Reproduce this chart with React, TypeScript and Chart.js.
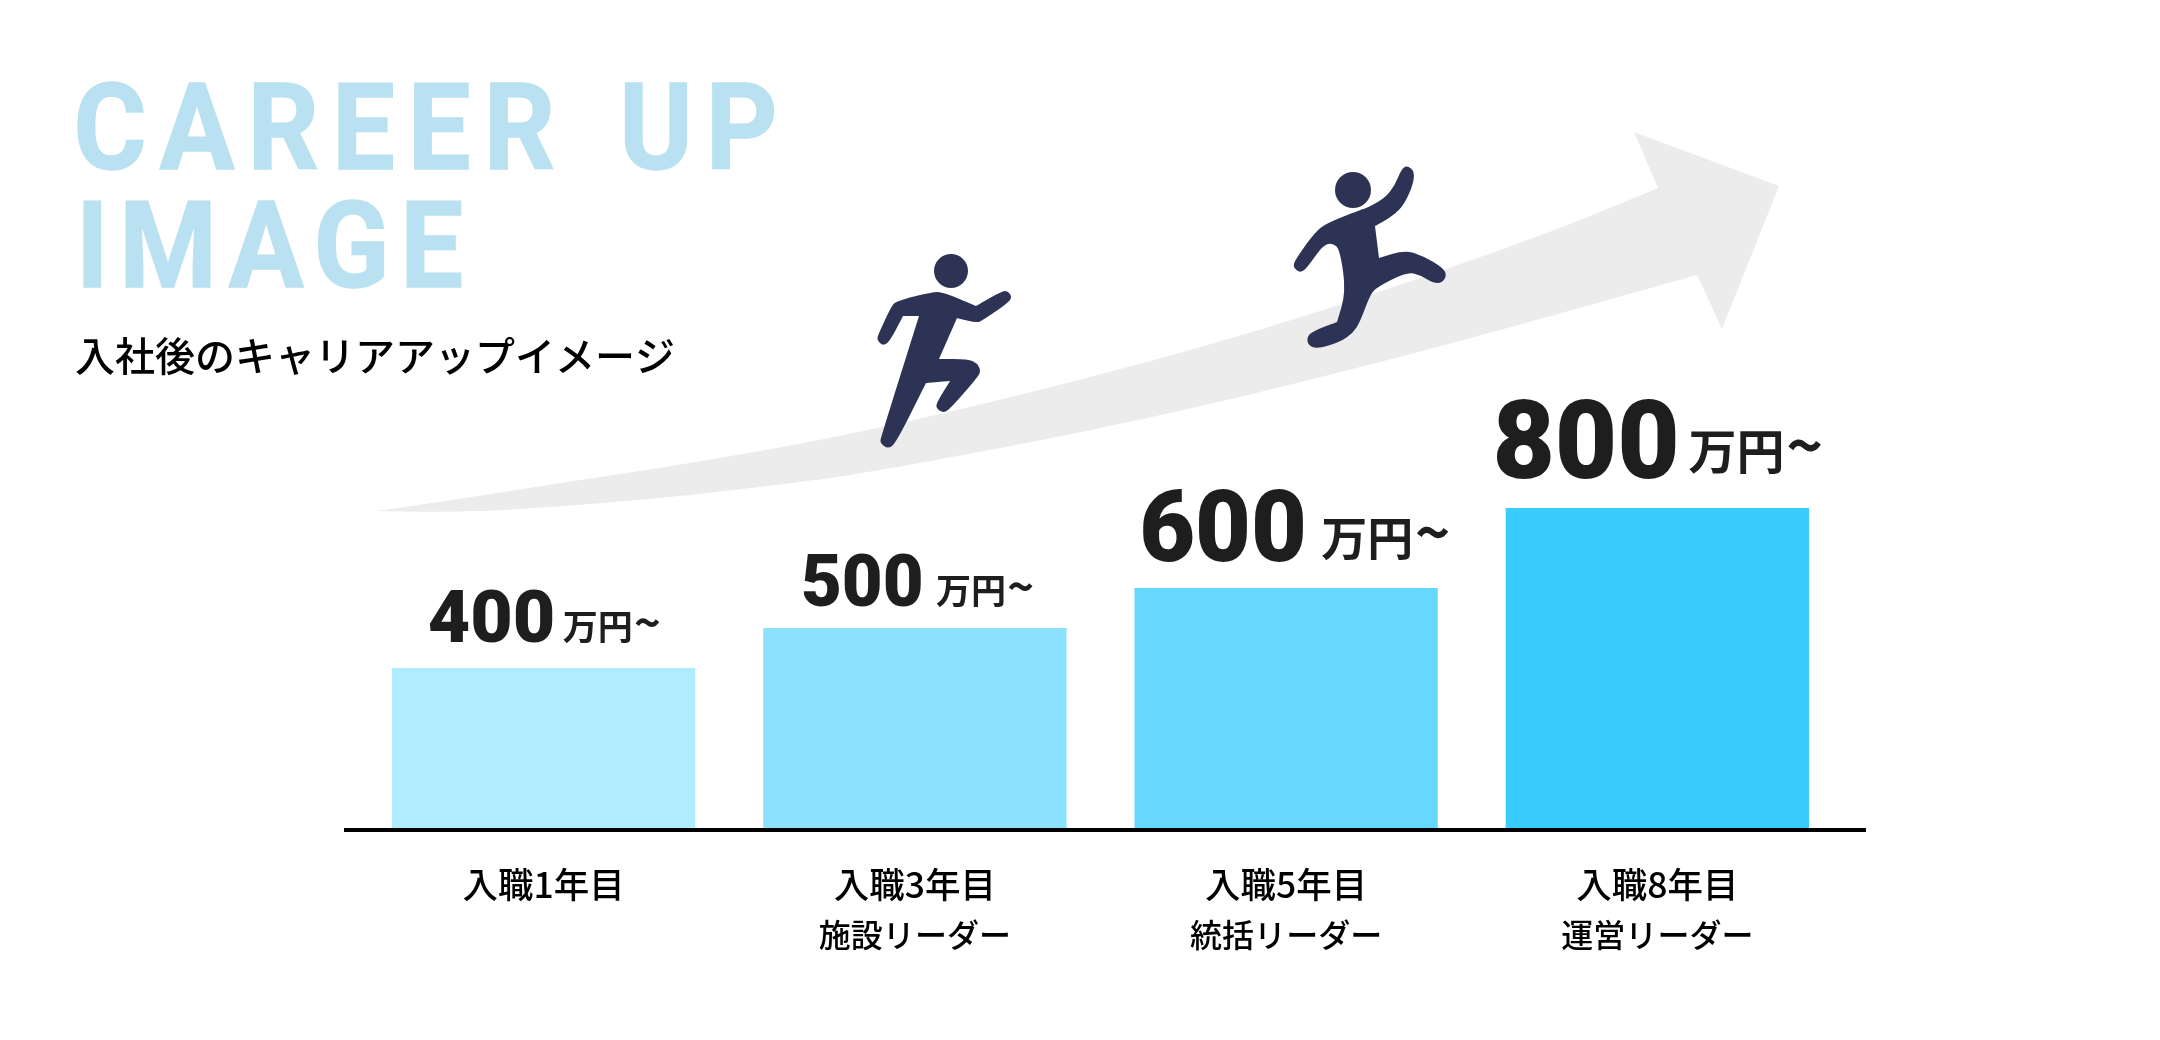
import React, { useEffect, useRef } from "react";
import { Chart, registerables } from "chart.js";

Chart.register(...registerables);

const categories = ["入職1年目", "入職3年目", "入職5年目", "入職8年目"];
const roles = ["", "施設リーダー", "統括リーダー", "運営リーダー"];
const salaries = [400, 500, 600, 800];
const unitLabel = "万円";
const unitSuffix = "~";
const barColors = ["#B0ECFF", "#8CE1FF", "#66D7FD", "#3ACCFD"];
const titleLines = ["CAREER UP", "IMAGE"];
const subtitle = "入社後のキャリアアップイメージ";

const JP = '"Noto Sans CJK JP", "Noto Sans", sans-serif';
const DIGITS = 'Roboto, "Liberation Sans", sans-serif';

// value-label typography per bar
const valueStyles = [
  { digit: 72, sx: 1.02, unit: 35, dx: -116, gap: 26, unitDx: 19, unitDrop: 2 },
  { digit: 72, sx: 0.98, unit: 35, dx: -114, gap: 22, unitDx: 21, unitDrop: 2 },
  { digit: 100, sx: 0.965, unit: 46, dx: -147, gap: 27, unitDx: 35, unitDrop: 6 },
  { digit: 110, sx: 0.98, unit: 48, dx: -165, gap: 30, unitDx: 31, unitDrop: 9 },
];

type P = [number, number];
const arrowUpper: P[] = [[377, 511], [460, 499], [560, 483], [693, 463], [860, 433], [1050, 388], [1217, 343], [1340, 305], [1450, 268], [1550, 232], [1600, 212], [1658, 188]];
const arrowHead: P[] = [[1634, 132], [1779, 186], [1722, 329], [1697, 275]];
const arrowLower: P[] = [[1530, 322], [1397, 358], [1217, 403], [1050, 439], [860, 474], [793, 483], [693, 495], [593, 504], [493, 511], [427, 512], [377, 511]];

// sharp corners are listed twice so the smoothing passes through them
const runnerA: P[] = [[932, 292], [943, 292], [976, 306], [976, 306], [1002, 291], [1008, 291], [1012, 297], [1008, 303], [983, 320], [977, 323], [957, 318], [957, 318], [939, 359], [939, 359], [968, 359], [977, 363], [981, 371], [977, 378], [950, 409], [943, 413], [936, 408], [937, 402], [950, 381], [950, 381], [926, 383], [926, 383], [896, 443], [888, 449], [880, 443], [881, 437], [919, 316], [919, 316], [903, 316], [903, 316], [890, 341], [883, 346], [877, 340], [878, 335], [891, 307], [896, 301]];
const runnerB: P[] = [[1407, 165], [1415, 172], [1412, 188], [1402, 208], [1388, 219], [1375, 226], [1375, 226], [1379, 258], [1379, 258], [1405, 250], [1423, 256], [1442, 267], [1447, 275], [1442, 283], [1433, 283], [1420, 275], [1407, 272], [1377, 287], [1370, 295], [1360, 322], [1353, 333], [1340, 342], [1317, 349], [1308, 345], [1307, 337], [1313, 331], [1337, 322], [1337, 322], [1346, 292], [1340, 250], [1333, 243], [1323, 245], [1307, 268], [1300, 273], [1293, 267], [1295, 260], [1315, 232], [1327, 223], [1360, 210], [1367, 208], [1385, 198], [1395, 185], [1401, 170]];

function smooth(ctx: CanvasRenderingContext2D, pts: P[]) {
  for (let i = 1; i < pts.length - 1; i++) {
    const mx = (pts[i][0] + pts[i + 1][0]) / 2;
    const my = (pts[i][1] + pts[i + 1][1]) / 2;
    ctx.quadraticCurveTo(pts[i][0], pts[i][1], mx, my);
  }
  const last = pts[pts.length - 1];
  ctx.lineTo(last[0], last[1]);
}

function blob(ctx: CanvasRenderingContext2D, pts: P[]) {
  const n = pts.length;
  ctx.beginPath();
  ctx.moveTo((pts[n - 1][0] + pts[0][0]) / 2, (pts[n - 1][1] + pts[0][1]) / 2);
  for (let i = 0; i < n; i++) {
    const a = pts[i];
    const b = pts[(i + 1) % n];
    ctx.quadraticCurveTo(a[0], a[1], (a[0] + b[0]) / 2, (a[1] + b[1]) / 2);
  }
  ctx.closePath();
  ctx.fill();
}

const illustration = {
  id: "illustration",
  beforeDatasetsDraw(chart: Chart) {
    const ctx = chart.ctx;
    ctx.save();
    ctx.fillStyle = "#ECECEC";
    ctx.beginPath();
    ctx.moveTo(arrowUpper[0][0], arrowUpper[0][1]);
    smooth(ctx, arrowUpper);
    arrowHead.forEach((p) => ctx.lineTo(p[0], p[1]));
    smooth(ctx, [arrowHead[arrowHead.length - 1], ...arrowLower]);
    ctx.closePath();
    ctx.fill();

    ctx.fillStyle = "#2D3354";
    blob(ctx, runnerA);
    blob(ctx, runnerB);
    ctx.beginPath();
    ctx.arc(951, 271, 17, 0, Math.PI * 2);
    ctx.fill();
    ctx.beginPath();
    ctx.arc(1353, 190, 18, 0, Math.PI * 2);
    ctx.fill();
    ctx.restore();
  },
};

const annotations = {
  id: "annotations",
  afterDatasetsDraw(chart: Chart) {
    const ctx = chart.ctx as CanvasRenderingContext2D & { letterSpacing: string; wordSpacing: string };
    const meta = chart.getDatasetMeta(0);
    const y0 = chart.scales.y.getPixelForValue(0);
    ctx.save();
    // baseline extends past the category band
    ctx.fillStyle = "#000";
    ctx.fillRect(344, y0, 1522, 4);

    // headline
    ctx.textBaseline = "alphabetic";
    ctx.textAlign = "left";
    ctx.save();
    ctx.fillStyle = "#BAE1F1";
    ctx.strokeStyle = "#BAE1F1";
    ctx.lineWidth = 1.5;
    ctx.lineJoin = "miter";
    ctx.font = `700 120px ${DIGITS}`;
    ctx.save();
    ctx.letterSpacing = "14px";
    ctx.wordSpacing = "11px";
    ctx.translate(73.5, 0);
    ctx.scale(0.93, 1);
    ctx.fillText(titleLines[0], 0, 169);
    ctx.strokeText(titleLines[0], 0, 169);
    ctx.restore();
    ctx.letterSpacing = "11.5px";
    ctx.translate(76, 0);
    ctx.scale(0.93, 1);
    ctx.fillText(titleLines[1], 0, 287);
    ctx.strokeText(titleLines[1], 0, 287);
    ctx.restore();

    ctx.fillStyle = "#000";
    ctx.font = `500 40px ${JP}`;
    ctx.fillText(subtitle, 75, 371);

    // value labels & roles
    meta.data.forEach((bar: any, i: number) => {
      const s = valueStyles[i];
      const base = bar.y - s.gap;
      ctx.textAlign = "left";
      ctx.fillStyle = "#1E1E1E";
      ctx.save();
      ctx.translate(bar.x + s.dx, base);
      ctx.scale(s.sx, 1);
      ctx.font = `900 ${s.digit}px ${DIGITS}`;
      ctx.fillText(String(salaries[i]), 0, 0);
      ctx.restore();
      const ux = bar.x + s.unitDx;
      const uy = base - s.unitDrop;
      ctx.font = `700 ${s.unit}px ${JP}`;
      ctx.fillText(unitLabel, ux, uy);
      ctx.font = `700 ${s.unit * 1.3}px ${JP}`;
      ctx.fillText(unitSuffix, ux + s.unit * 2.04, uy);
      if (roles[i]) {
        ctx.textAlign = "center";
        ctx.fillStyle = "#000";
        ctx.font = `500 32px ${JP}`;
        ctx.fillText(roles[i], bar.x, 947);
      }
    });
    ctx.restore();
  },
};

export default function App() {
  const ref = useRef<HTMLCanvasElement>(null);
  useEffect(() => {
    document.body.style.margin = "0";
    const chart = new Chart(ref.current!, {
      type: "bar",
      data: {
        labels: categories,
        datasets: [
          {
            data: salaries,
            backgroundColor: barColors,
            borderWidth: 0,
            barPercentage: 1,
            categoryPercentage: 0.817,
          },
        ],
      },
      plugins: [illustration, annotations],
      options: {
        responsive: false,
        animation: false,
        layout: { padding: { left: 358, right: 317, top: 0, bottom: 0 } },
        plugins: { legend: { display: false }, tooltip: { enabled: false } },
        scales: {
          y: { display: false, min: 0, max: 2070 },
          x: {
            grid: { display: false, drawTicks: false },
            border: { display: false },
            afterFit: (s: any) => {
              s.height = 1040 - 828;
            },
            ticks: {
              color: "#000",
              padding: 35,
              maxRotation: 0,
              font: { family: JP, size: 35.5, weight: "500" },
            },
          },
        },
      } as any,
    });
    return () => chart.destroy();
  }, []);
  return (
    <div style={{ position: "absolute", left: 0, top: 0, width: 2160, height: 1040, background: "#fff" }}>
      <canvas ref={ref} width={2160} height={1040} style={{ display: "block" }} />
    </div>
  );
}
